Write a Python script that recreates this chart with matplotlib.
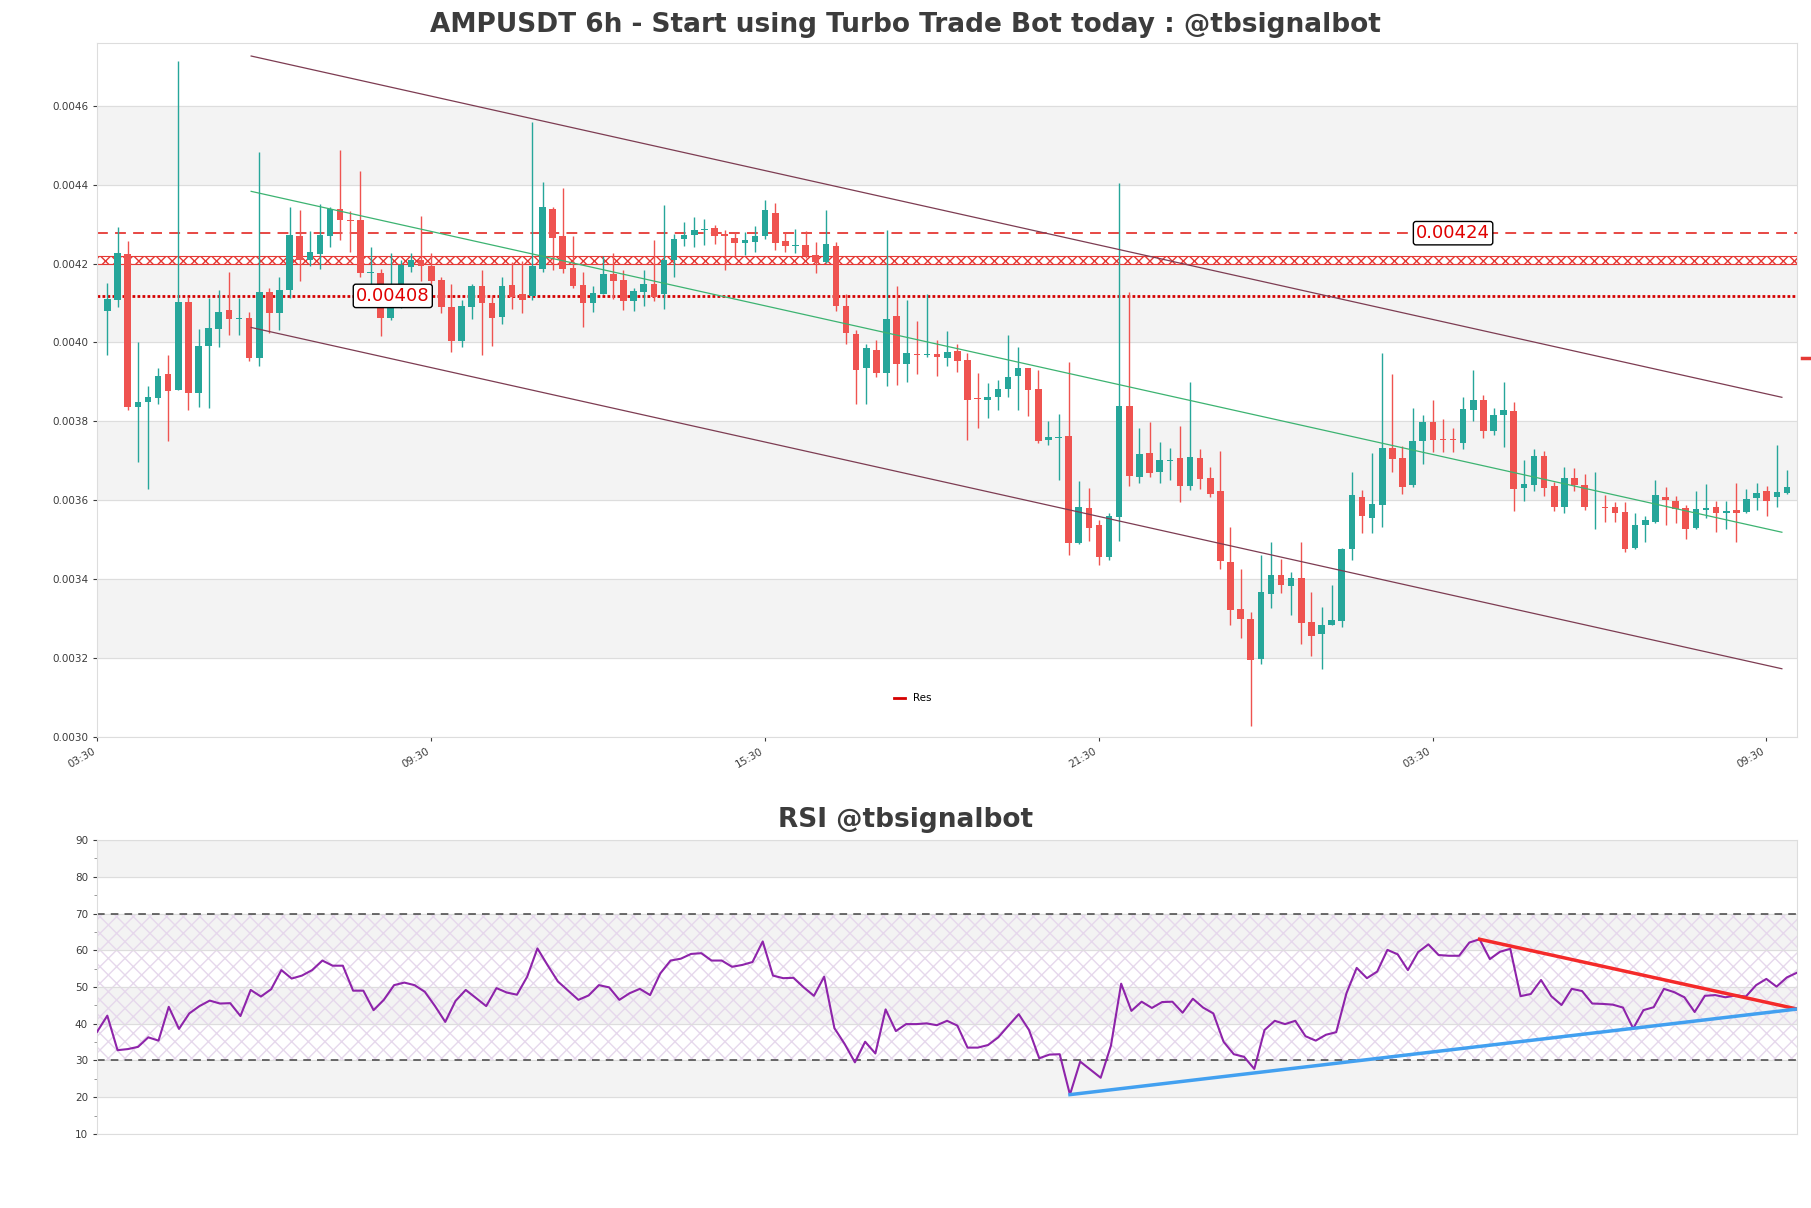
import matplotlib
matplotlib.use("Agg")
import matplotlib.pyplot as plt
import numpy as np

PRICE_UNIT = 1e-5  # candle values below are in units of 0.00001

opens = [408.0, 410.8, 422.4, 383.6, 384.8, 385.9, 391.8, 388.0, 410.1, 387.3,
         399.0, 403.3, 408.0, 406.0, 406.1, 396.1, 412.7, 407.4, 413.2, 426.9,
         421.0, 422.4, 427.1, 433.7, 431.0, 430.9, 417.6, 417.6, 406.1, 414.7,
         419.2, 420.7, 419.2, 415.8, 408.8, 400.3, 409.0, 414.1, 409.9, 406.5,
         414.4, 412.2, 411.8, 418.7, 433.7, 426.9, 418.7, 414.4, 410.1, 412.4,
         417.2, 415.8, 410.5, 412.7, 414.7, 412.2, 420.9, 426.2, 427.3, 428.5,
         428.9, 427.3, 426.3, 425.2, 425.5, 426.9, 432.6, 425.5, 424.5, 424.6,
         422.0, 420.3, 424.4, 409.0, 402.0, 393.5, 398.0, 392.3, 406.5, 394.5,
         397.0, 396.9, 397.0, 396.0, 397.8, 395.4, 385.9, 385.3, 386.1, 388.2,
         391.6, 393.5, 388.2, 375.2, 375.9, 376.1, 349.2, 357.8, 353.5, 345.5,
         355.7, 383.8, 366.0, 371.8, 367.2, 370.0, 370.5, 363.7, 370.6, 365.5,
         362.3, 344.2, 332.3, 329.9, 319.8, 336.3, 341.0, 338.3, 340.2, 329.0,
         326.1, 328.3, 329.5, 347.6, 360.6, 355.5, 358.9, 373.1, 370.7, 363.9,
         375.0, 379.8, 375.4, 375.4, 374.4, 383.0, 385.4, 377.5, 381.6, 382.5,
         363.2, 363.9, 371.1, 363.4, 358.3, 365.5, 363.8, 358.2, 358.3, 358.1,
         356.9, 347.8, 353.7, 354.6, 360.7, 359.6, 358.0, 353.0, 357.6, 358.2,
         356.9, 357.5, 357.1, 360.7, 362.3, 360.9, 361.9]
highs = [415.0, 429.2, 425.8, 400.2, 388.9, 393.5, 396.8, 471.3, 411.6, 403.3,
         411.3, 413.3, 417.8, 411.3, 407.6, 448.4, 413.9, 416.7, 434.3, 433.7,
         428.2, 435.0, 434.3, 448.9, 433.3, 443.4, 424.1, 418.7, 422.6, 421.0,
         422.8, 432.0, 422.6, 416.5, 414.7, 410.8, 414.7, 418.4, 412.0, 416.5,
         420.3, 420.7, 455.8, 440.7, 434.3, 439.1, 426.9, 417.8, 414.4, 421.8,
         422.6, 418.4, 413.9, 418.4, 426.0, 434.8, 427.5, 430.5, 431.9, 431.4,
         429.7, 428.6, 428.0, 428.0, 429.4, 436.2, 435.3, 428.0, 428.8, 428.2,
         425.5, 433.7, 425.5, 412.2, 403.1, 399.7, 400.6, 428.6, 414.4, 410.8,
         405.4, 412.4, 400.6, 402.8, 399.7, 397.4, 392.3, 389.7, 390.4, 402.0,
         398.8, 393.5, 392.9, 380.2, 381.8, 395.0, 364.8, 363.1, 355.0, 356.7,
         440.5, 412.7, 378.2, 379.9, 374.8, 373.3, 378.8, 390.1, 373.1, 368.5,
         372.5, 353.3, 342.7, 331.7, 346.2, 349.3, 345.1, 341.9, 349.3, 336.8,
         332.9, 338.5, 347.8, 367.1, 362.5, 372.0, 397.4, 392.0, 373.7, 383.3,
         381.6, 385.5, 380.7, 378.2, 386.1, 392.9, 386.7, 383.3, 390.1, 384.8,
         370.3, 373.1, 372.5, 364.6, 368.5, 368.3, 366.6, 367.1, 361.4, 359.5,
         359.5, 356.9, 356.1, 365.2, 363.4, 361.2, 358.7, 362.3, 364.0, 359.8,
         359.8, 364.4, 362.9, 364.4, 363.7, 373.9, 367.8]
lows = [396.9, 409.0, 383.0, 369.7, 362.9, 384.4, 375.0, 388.0, 383.0, 383.6,
        383.3, 398.8, 402.0, 402.0, 395.4, 394.0, 402.5, 403.1, 411.3, 415.6,
        419.5, 418.6, 424.1, 426.0, 423.0, 416.5, 413.3, 401.7, 405.8, 408.8,
        417.8, 415.6, 414.7, 407.4, 397.7, 398.8, 406.0, 396.8, 399.1, 404.7,
        408.5, 407.4, 410.8, 417.8, 418.4, 417.6, 413.9, 404.0, 407.6, 412.2,
        411.0, 408.2, 407.9, 409.3, 410.5, 408.5, 416.7, 424.4, 424.1, 424.6,
        424.9, 418.4, 421.8, 422.1, 423.0, 426.3, 423.5, 422.9, 422.6, 421.3,
        417.6, 420.1, 408.1, 399.7, 384.3, 384.3, 391.2, 388.9, 389.3, 390.1,
        392.0, 396.3, 391.5, 394.0, 392.6, 375.3, 378.2, 380.9, 383.0, 386.1,
        383.0, 381.4, 374.6, 373.9, 365.1, 346.2, 349.0, 349.6, 343.6, 344.8,
        349.6, 363.7, 364.4, 366.0, 364.4, 365.1, 359.5, 362.5, 362.9, 360.9,
        342.5, 328.3, 325.2, 302.8, 318.6, 332.6, 336.5, 330.8, 323.6, 320.6,
        317.2, 328.3, 327.8, 344.8, 351.8, 351.8, 353.2, 367.1, 361.6, 363.4,
        369.3, 372.3, 372.3, 372.3, 373.1, 380.2, 375.9, 376.5, 373.4, 357.2,
        359.8, 362.3, 361.2, 357.2, 356.7, 362.3, 357.6, 352.7, 354.4, 354.4,
        347.0, 347.6, 349.3, 354.2, 353.8, 354.2, 350.1, 352.7, 355.5, 351.9,
        352.7, 349.3, 356.7, 357.6, 356.0, 358.3, 361.7]
closes = [410.8, 422.6, 383.6, 384.8, 386.1, 391.4, 387.8, 410.1, 387.3, 399.0,
          403.6, 407.7, 406.0, 406.1, 396.1, 412.7, 407.4, 413.2, 427.1, 421.0,
          422.8, 427.1, 433.7, 431.0, 430.8, 417.6, 417.8, 406.1, 409.7, 419.5,
          420.7, 419.4, 415.5, 409.0, 400.3, 409.0, 414.2, 410.1, 406.3, 414.2,
          411.6, 410.8, 419.2, 434.1, 426.4, 418.7, 414.4, 410.1, 412.4, 417.2,
          415.6, 410.5, 413.0, 414.7, 411.6, 420.9, 426.0, 427.1, 428.3, 428.6,
          426.9, 427.1, 425.2, 425.8, 426.9, 433.4, 425.2, 424.4, 424.6, 421.8,
          420.3, 424.9, 409.3, 402.3, 393.1, 398.6, 392.2, 405.8, 394.6, 397.1,
          396.9, 397.0, 396.3, 397.5, 395.2, 385.5, 385.6, 386.1, 388.2, 391.0,
          393.4, 388.0, 375.0, 375.9, 376.0, 349.2, 358.3, 353.0, 345.5, 356.0,
          383.8, 366.2, 371.6, 366.8, 370.0, 370.2, 363.7, 370.8, 365.5, 361.7,
          344.6, 332.3, 329.9, 319.5, 336.7, 341.0, 338.5, 340.1, 329.0, 325.6,
          328.3, 329.5, 347.6, 361.2, 356.0, 358.9, 373.1, 370.5, 363.4, 375.0,
          379.8, 375.2, 375.2, 375.2, 383.0, 385.2, 377.5, 381.4, 382.7, 362.9,
          364.0, 371.1, 363.2, 358.3, 365.5, 363.8, 358.3, 358.3, 358.0, 356.9,
          347.6, 353.7, 354.9, 361.1, 360.0, 357.8, 352.6, 357.6, 357.8, 356.9,
          357.1, 356.9, 360.3, 361.7, 359.8, 362.1, 363.2]

rsi = [37.8, 42.2, 32.8, 33.1, 33.7, 36.3, 35.4, 44.6, 38.6, 42.8,
       44.8, 46.3, 45.5, 45.6, 42.1, 49.2, 47.4, 49.4, 54.6, 52.3,
       53.1, 54.6, 57.2, 55.8, 55.8, 49.0, 49.0, 43.7, 46.5, 50.5,
       51.2, 50.5, 48.7, 44.8, 40.5, 46.2, 49.2, 47.0, 44.8, 49.7,
       48.5, 47.9, 52.8, 60.5, 55.9, 51.5, 49.0, 46.5, 47.7, 50.5,
       49.9, 46.5, 48.3, 49.5, 47.8, 53.7, 57.2, 57.7, 59.0, 59.2,
       57.2, 57.2, 55.5, 56.0, 56.8, 62.4, 53.1, 52.4, 52.5, 49.9,
       47.6, 52.8, 38.8, 34.5, 29.5, 35.1, 31.9, 43.9, 38.0, 39.9,
       39.9, 40.1, 39.6, 40.8, 39.5, 33.5, 33.5, 34.2, 36.3, 39.5,
       42.6, 38.3, 30.6, 31.6, 31.7, 20.7, 29.7, 27.5, 25.3, 34.0,
       50.9, 43.5, 46.0, 44.3, 45.9, 46.0, 43.0, 46.8, 44.4, 42.8,
       35.1, 31.7, 31.0, 27.7, 38.3, 40.8, 39.9, 40.8, 36.6, 35.4,
       37.0, 37.7, 48.3, 55.2, 52.4, 54.2, 60.1, 58.9, 54.6, 59.5,
       61.6, 58.7, 58.5, 58.5, 62.1, 63.0, 57.6, 59.6, 60.4, 47.5,
       48.1, 51.9, 47.5, 45.1, 49.5, 48.9, 45.5, 45.4, 45.2, 44.4,
       38.7, 43.7, 44.5, 49.5, 48.6, 47.2, 43.2, 47.6, 47.8, 47.2,
       47.7, 47.4, 50.5, 52.2, 50.1, 52.6, 53.9]

tick_labels = ["03:30", "09:30", "15:30", "21:30", "03:30", "09:30"]

# channel lines (candle index, price in PRICE_UNIT)
channel_x = [14.2, 165.5]
channel_upper = [472.6, 386.1]
channel_mid = [438.3, 351.9]
channel_lower = [403.8, 317.3]

res_dashed = 0.004277
res_band = (0.004198, 0.004218)
res_dotted = 0.004118
last_marker = 0.003961

rsi_red_x, rsi_red_y = [135, 166], [63.0, 44.0]
rsi_blue_x, rsi_blue_y = [95, 166], [20.7, 44.0]

GREEN = "#26a69a"
RED = "#ef5350"
TXT = "#3c3c3c"

o = np.array(opens) * PRICE_UNIT
h = np.array(highs) * PRICE_UNIT
l = np.array(lows) * PRICE_UNIT
c = np.array(closes) * PRICE_UNIT
idx = np.arange(len(o))

fig = plt.figure(figsize=(18.11, 12.08), dpi=100)
ax = fig.add_axes([0.0536, 0.3899, 0.9387, 0.5745])
ax2 = fig.add_axes([0.0536, 0.0613, 0.9387, 0.2433])

# price panel
for lo_b in [0.0032, 0.0036, 0.0040, 0.0044]:
    ax.axhspan(lo_b, lo_b + 0.0002, color="#f3f3f3", zorder=0)
ax.grid(axis="y", color="#dddddd", lw=0.8, zorder=0)
ax.set_axisbelow(True)

colors = np.where(c >= o, GREEN, RED)
ax.vlines(idx, l, h, colors=colors, lw=1.0, zorder=3)
ax.bar(idx, np.abs(c - o) + 0.0000012, bottom=np.minimum(o, c), width=0.65,
       color=colors, zorder=4)

s = PRICE_UNIT
ax.plot(channel_x, np.array(channel_upper) * s, color="#7d3c52", lw=0.9, zorder=5)
ax.plot(channel_x, np.array(channel_lower) * s, color="#7d3c52", lw=0.9, zorder=5)
ax.plot(channel_x, np.array(channel_mid) * s, color="#3cb371", lw=0.9, zorder=5)

ax.axhline(res_dashed, color="#e53935", lw=1.3, ls=(0, (6, 4)), zorder=2)
ax.axhspan(res_band[0], res_band[1], facecolor="none", edgecolor="#e53935",
           hatch="xxx", lw=0.8, zorder=2)
ax.axhline(res_dotted, color="#d50000", lw=2.0, ls=(0, (1, 0.8)), zorder=2, label="Res")
ax.plot([167.5, 169.8], [last_marker, last_marker], color="#e53935", lw=2.5,
        clip_on=False, zorder=6)

box = dict(boxstyle="round,pad=0.15", fc="white", ec="black", lw=1)
ax.text(28.2, res_dotted, "0.00408", color="#e00000", fontsize=13, ha="center",
        va="center", bbox=box, zorder=7)
ax.text(133.0, res_dashed, "0.00424", color="#e00000", fontsize=13, ha="center",
        va="center", bbox=box, zorder=7)

ax.set_xlim(-1.03, 167.0)
ax.set_ylim(0.0030, 0.004759)
ax.set_yticks(np.arange(0.0030, 0.00461, 0.0002))
ax.set_yticklabels([f"{v:.4f}" for v in np.arange(0.0030, 0.00461, 0.0002)])
ax.set_xticks(-1.03 + 33.0 * np.arange(len(tick_labels)))
ax.set_xticklabels(tick_labels, rotation=30, ha="right")
ax.tick_params(labelsize=7.5, colors=TXT, length=3)
for sp in ax.spines.values():
    sp.set_color("#dddddd")
leg = ax.legend(loc="lower center", bbox_to_anchor=(0.48, 0.035), frameon=False,
                fontsize=7.5, handlelength=1.0)
for line in leg.get_lines():
    line.set_linestyle("-")
    line.set_linewidth(2)
fig.text(0.5, 0.979, "AMPUSDT 6h - Start using Turbo Trade Bot today : @tbsignalbot",
         fontsize=19, fontweight="bold", color=TXT, ha="center", va="center")

# RSI panel
for lo_b in [20, 40, 60, 80]:
    ax2.axhspan(lo_b, lo_b + 10, color="#f3f3f3", zorder=0)
ax2.axhspan(30, 70, facecolor="none", edgecolor="#e6d8ec", hatch="xx", lw=0, zorder=1)
ax2.grid(axis="y", color="#dddddd", lw=0.8, zorder=0)
ax2.axhline(70, color="#444444", lw=1.1, ls=(0, (5, 4)), zorder=2)
ax2.axhline(30, color="#444444", lw=1.1, ls=(0, (5, 4)), zorder=2)
ax2.plot(np.arange(len(rsi)), rsi, color="#8e24aa", lw=1.5, zorder=4)
ax2.plot(rsi_red_x, rsi_red_y, color="#f42a2a", lw=2.5, zorder=5)
ax2.plot(rsi_blue_x, rsi_blue_y, color="#42a0f0", lw=2.5, zorder=5)
ax2.set_xlim(0, len(rsi) - 1)
ax2.set_ylim(10, 90)
ax2.set_yticks(range(10, 91, 10))
ax2.set_yticks(range(15, 90, 10), minor=True)
ax2.set_xticks([])
ax2.tick_params(labelsize=7.5, colors=TXT, length=3)
ax2.tick_params(which="minor", length=2, colors="#888888")
for sp in ax2.spines.values():
    sp.set_color("#dddddd")
fig.text(0.5, 0.321, "RSI @tbsignalbot", fontsize=19, fontweight="bold", color=TXT,
         ha="center", va="center")

fig.savefig("out.png", dpi=100, facecolor="white")
